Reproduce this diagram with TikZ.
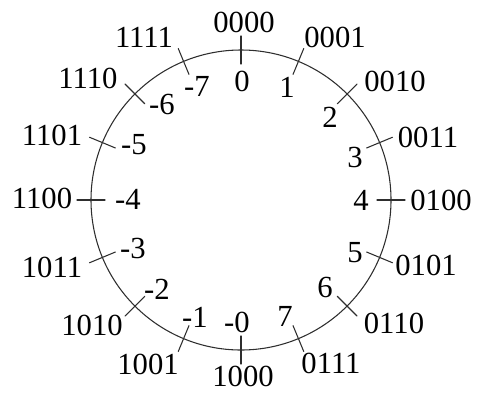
\documentclass[tikz,border=0pt]{standalone}
\usepackage{fontspec}
\setmainfont{Liberation Serif}
\usetikzlibrary{calc}
\definecolor{trazo}{HTML}{2E2E2E}

\begin{document}
\begin{tikzpicture}[x=0.75pt,y=-0.75pt,line cap=round,
    rotulo/.style={inner sep=0pt,font=\fontsize{23}{25}\selectfont,text=black}]
    \useasboundingbox (0,0) rectangle (477,393);
    % --- rueda de 4 bits (signo y magnitud) ---
    \coordinate (C) at (241,200);
    \draw[trazo,line width=0.8pt] (C) circle (150);
    % --- marcas, codigo binario afuera, valor adentro ---
    \foreach \i/\bin/\dec/\bx/\by/\dx/\dy in {
        0/0000/0/244/22/242/81,
        1/0001/1/335/37/287/87,
        2/0010/2/395/81/330/117,
        3/0011/3/428/137/355/157,
        4/0100/4/441/200/361/200,
        5/0101/5/426/265/355/253,
        6/0110/6/394/323/325/287,
        7/0111/7/331/363/285/316,
        8/1000/-0/243/376/237/322,
        9/1001/-1/148/364/195/317,
        10/1010/-2/92/325/157/289,
        11/1011/-3/52/267/133/248,
        12/1100/-4/42/198/128/199,
        13/1101/-5/52/135/134/145,
        14/1110/-6/88/78/162/104,
        15/1111/-7/144/37/197/86}{
      \coordinate (m\i) at ($(C)+({22.5*\i-90}:136)$);
      \coordinate (n\i) at ($(C)+({22.5*\i-90}:164)$);
      \draw[trazo,line width=0.8pt] (m\i) -- (n\i);
      \node[rotulo] (b\i) at (\bx,\by) {\bin};
      \node[rotulo] (d\i) at (\dx,\dy) {\dec};
    }
\end{tikzpicture}
\end{document}
